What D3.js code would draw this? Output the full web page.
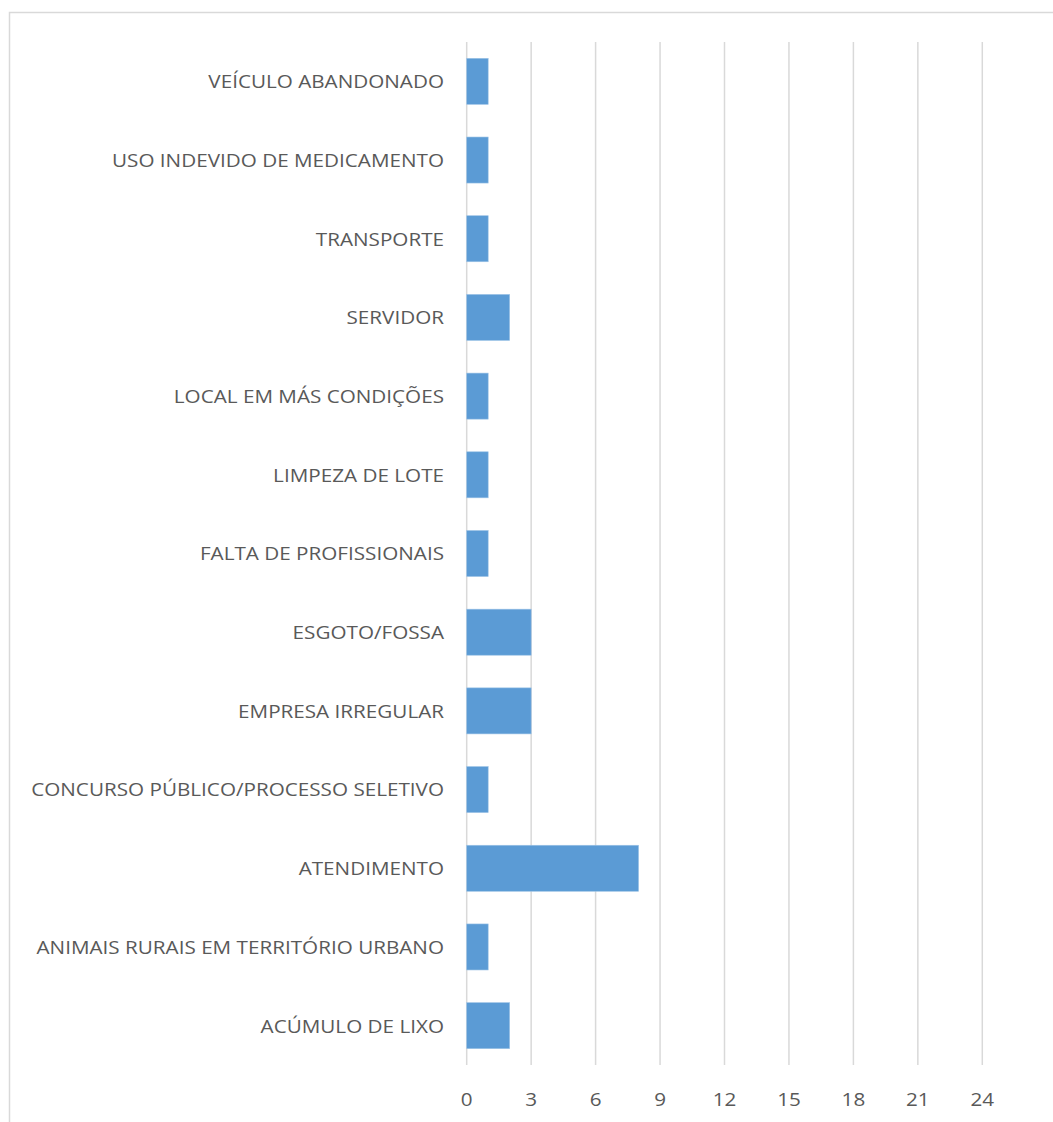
<!DOCTYPE html>
<html>
<head>
<meta charset="utf-8">
<script src="https://cdn.jsdelivr.net/npm/d3@7"></script>
<style>
  body { margin: 0; background: #fff; }
  svg { display: block; }
</style>
</head>
<body>
<script>
// categories, top to bottom as drawn
var categories = ["VEÍCULO ABANDONADO", "USO INDEVIDO DE MEDICAMENTO", "TRANSPORTE", "SERVIDOR",
  "LOCAL EM MÁS CONDIÇÕES", "LIMPEZA DE LOTE", "FALTA DE PROFISSIONAIS", "ESGOTO/FOSSA",
  "EMPRESA IRREGULAR", "CONCURSO PÚBLICO/PROCESSO SELETIVO", "ATENDIMENTO",
  "ANIMAIS RURAIS EM TERRITÓRIO URBANO", "ACÚMULO DE LIXO"];
var values = [1, 1, 1, 2, 1, 1, 1, 3, 3, 1, 8, 1, 2];
var ticks = [0, 3, 6, 9, 12, 15, 18, 21, 24];

var W = 1053, H = 1122;
var x0 = 466.7, x1 = 982.3, yTop = 42, yBot = 1065;

var svg = d3.select("body").append("svg")
  .attr("width", W)
  .attr("height", H);

// chart frame (cropped at right/bottom)
svg.append("rect")
  .attr("x", 9.5).attr("y", 12.5)
  .attr("width", W + 20).attr("height", H + 20)
  .attr("fill", "none").attr("stroke", "#d9d9d9").attr("stroke-width", 1.5);

var x = d3.scaleLinear().domain([0, 24]).range([x0, x1]);
var y = d3.scaleBand().domain(categories).range([yTop, yBot]).paddingInner(0.415).paddingOuter(0.2075);

// reference font is narrower than Open Sans: use a taller size and squeeze it
var font = "'Open Sans', sans-serif", fs = 19;
var probe = svg.append("text").attr("font-family", font).attr("font-size", fs)
  .text("CONCURSO PÚBLICO/PROCESSO SELETIVO");
var sx = 413 / probe.node().getComputedTextLength();
probe.remove();

// gridlines
svg.append("g").selectAll("line")
  .data(ticks)
  .enter().append("line")
  .attr("x1", function (d) { return x(d); })
  .attr("x2", function (d) { return x(d); })
  .attr("y1", yTop).attr("y2", yBot)
  .attr("stroke", "#d9d9d9").attr("stroke-width", 1.5);

// bars
svg.append("g").selectAll("rect")
  .data(values)
  .enter().append("rect")
  .attr("x", x(0))
  .attr("y", function (d, i) { return y(categories[i]); })
  .attr("width", function (d) { return x(d) - x(0); })
  .attr("height", y.bandwidth())
  .attr("fill", "#5b9bd5")
  .attr("stroke", "#9dc3e6").attr("stroke-width", 0.6);

// category labels
svg.append("g").selectAll("text")
  .data(categories)
  .enter().append("text")
  .attr("transform", function (d) {
    return "translate(444," + (y(d) + y.bandwidth() / 2) + ") scale(" + sx + ",1)";
  })
  .attr("dy", "0.36em")
  .attr("text-anchor", "end")
  .attr("font-family", font)
  .attr("font-size", fs)
  .attr("fill", "#595959")
  .text(function (d) { return d; });

// tick labels
svg.append("g").selectAll("text")
  .data(ticks)
  .enter().append("text")
  .attr("transform", function (d) { return "translate(" + x(d) + ",1099) scale(" + sx + ",1)"; })
  .attr("dy", "0.36em")
  .attr("text-anchor", "middle")
  .attr("font-family", font)
  .attr("font-size", fs)
  .attr("fill", "#595959")
  .text(function (d) { return d; });
</script>
</body>
</html>
